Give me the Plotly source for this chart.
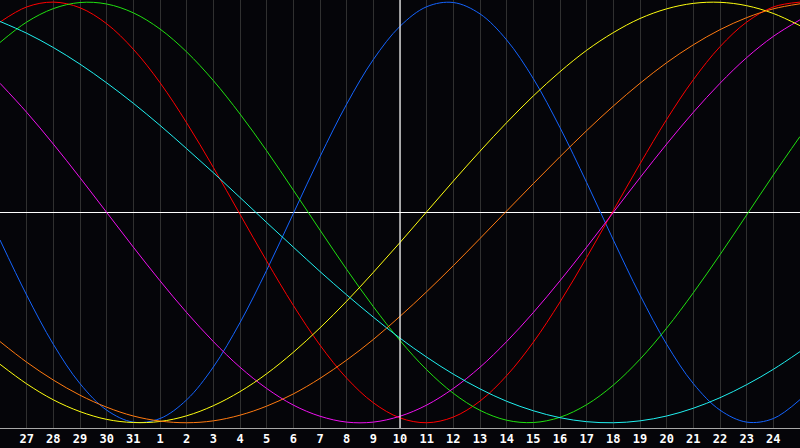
import plotly.graph_objects as go

# days shown along the bottom (26th of previous month .. 25th)
day_labels = ["26", "27", "28", "29", "30", "31", "1", "2", "3", "4", "5", "6", "7", "8", "9",
              "10", "11", "12", "13", "14", "15", "16", "17", "18", "19", "20", "21", "22",
              "23", "24", "25"]
today_label = "10"

# cycle values, one per day
physical = [-0.131, -0.393, -0.627, -0.814, -0.940, -0.997, -0.980, -0.891, -0.735, -0.524,
            -0.275, -0.005, 0.265, 0.515, 0.727, 0.885, 0.978, 0.998, 0.944, 0.820,
            0.636, 0.403, 0.142, -0.131, -0.393, -0.627, -0.814, -0.940, -0.997, -0.980, -0.890]
emotional = [0.905, 0.977, 1.000, 0.973, 0.897, 0.776, 0.617, 0.426, 0.214, -0.009,
             -0.231, -0.442, -0.631, -0.788, -0.905, -0.977, -1.000, -0.973, -0.897, -0.776,
             -0.617, -0.426, -0.214, 0.009, 0.231, 0.442, 0.631, 0.788, 0.905, 0.977, 1.000]
intellectual = [0.808, 0.905, 0.969, 0.998, 0.991, 0.949, 0.872, 0.763, 0.627, 0.468,
                0.293, 0.106, -0.084, -0.271, -0.448, -0.609, -0.748, -0.860, -0.941, -0.988,
                -0.999, -0.974, -0.914, -0.821, -0.698, -0.550, -0.382, -0.201, -0.012, 0.178, 0.361]
intuitive = [0.614, 0.476, 0.325, 0.165, 0.000, -0.165, -0.325, -0.476, -0.614, -0.736,
             -0.837, -0.916, -0.969, -0.997, -0.997, -0.969, -0.916, -0.837, -0.736, -0.614,
             -0.476, -0.325, -0.165, 0.000, 0.165, 0.325, 0.476, 0.614, 0.736, 0.837, 0.916]
aesthetic = [-0.722, -0.815, -0.891, -0.947, -0.984, -0.999, -0.994, -0.967, -0.919, -0.852,
             -0.767, -0.665, -0.549, -0.422, -0.285, -0.143, 0.003, 0.149, 0.291, 0.427,
             0.554, 0.669, 0.771, 0.855, 0.922, 0.968, 0.994, 0.999, 0.983, 0.946, 0.888]
awareness = [-0.614, -0.712, -0.797, -0.869, -0.926, -0.968, -0.992, -1.000, -0.991, -0.964,
             -0.921, -0.863, -0.789, -0.702, -0.604, -0.494, -0.377, -0.253, -0.124, 0.007,
             0.137, 0.265, 0.389, 0.506, 0.614, 0.712, 0.797, 0.869, 0.926, 0.968, 0.992]
spiritual = [0.908, 0.852, 0.784, 0.705, 0.616, 0.519, 0.414, 0.303, 0.189, 0.071,
             -0.048, -0.165, -0.281, -0.392, -0.498, -0.598, -0.688, -0.769, -0.839, -0.898,
             -0.943, -0.976, -0.995, -1.000, -0.991, -0.968, -0.931, -0.881, -0.819, -0.746, -0.662]

series = [
    ("Physical", physical, "#1464ff"),
    ("Emotional", emotional, "#ff0000"),
    ("Intellectual", intellectual, "#20e010"),
    ("Intuitive", intuitive, "#f010f0"),
    ("Aesthetic", aesthetic, "#ffff10"),
    ("Awareness", awareness, "#ff7a10"),
    ("Spiritual", spiritual, "#20f0f0"),
]

day_index = list(range(len(day_labels)))
today = day_labels.index(today_label)
bg = "#050509"

fig = go.Figure()

for name, values, color in series:
    fig.add_trace(
        go.Scatter(
            x=day_index,
            y=values,
            name=name,
            mode="lines",
            line={"color": color, "width": 1, "shape": "spline", "smoothing": 1.0},
            showlegend=False,
        )
    )

# today marker
fig.add_vline(x=today, line_color="white", line_width=1.2, layer="above")

fig.update_layout(
    width=800,
    height=448,
    margin={"t": 0, "b": 20, "l": 0, "r": 0},
    paper_bgcolor=bg,
    plot_bgcolor=bg,
    xaxis={
        "range": [0, len(day_labels) - 1],
        "tickvals": day_index[1:-1],
        "ticktext": day_labels[1:-1],
        "showgrid": True,
        "gridcolor": "#303030",
        "gridwidth": 1,
        "zeroline": False,
        "showline": True,
        "linecolor": "#a8a8a8",
        "linewidth": 1,
        "mirror": True,
        "ticks": "",
        "tickfont": {"family": "DejaVu Sans Mono", "size": 12, "color": "white", "weight": "bold"},
    },
    yaxis={
        "range": [-1.025, 1.01],
        "showgrid": False,
        "showticklabels": False,
        "zeroline": True,
        "zerolinecolor": "white",
        "zerolinewidth": 1.2,
        "showline": True,
        "linecolor": "#909090",
        "linewidth": 1,
        "mirror": True,
        "ticks": "",
    },
)

# page body has a default 8px margin; drop it so the chart fills the window
fig.write_html(
    "out.html",
    config={"displayModeBar": False},
    post_script="document.body.style.margin='0';document.body.style.background='" + bg + "';",
)
